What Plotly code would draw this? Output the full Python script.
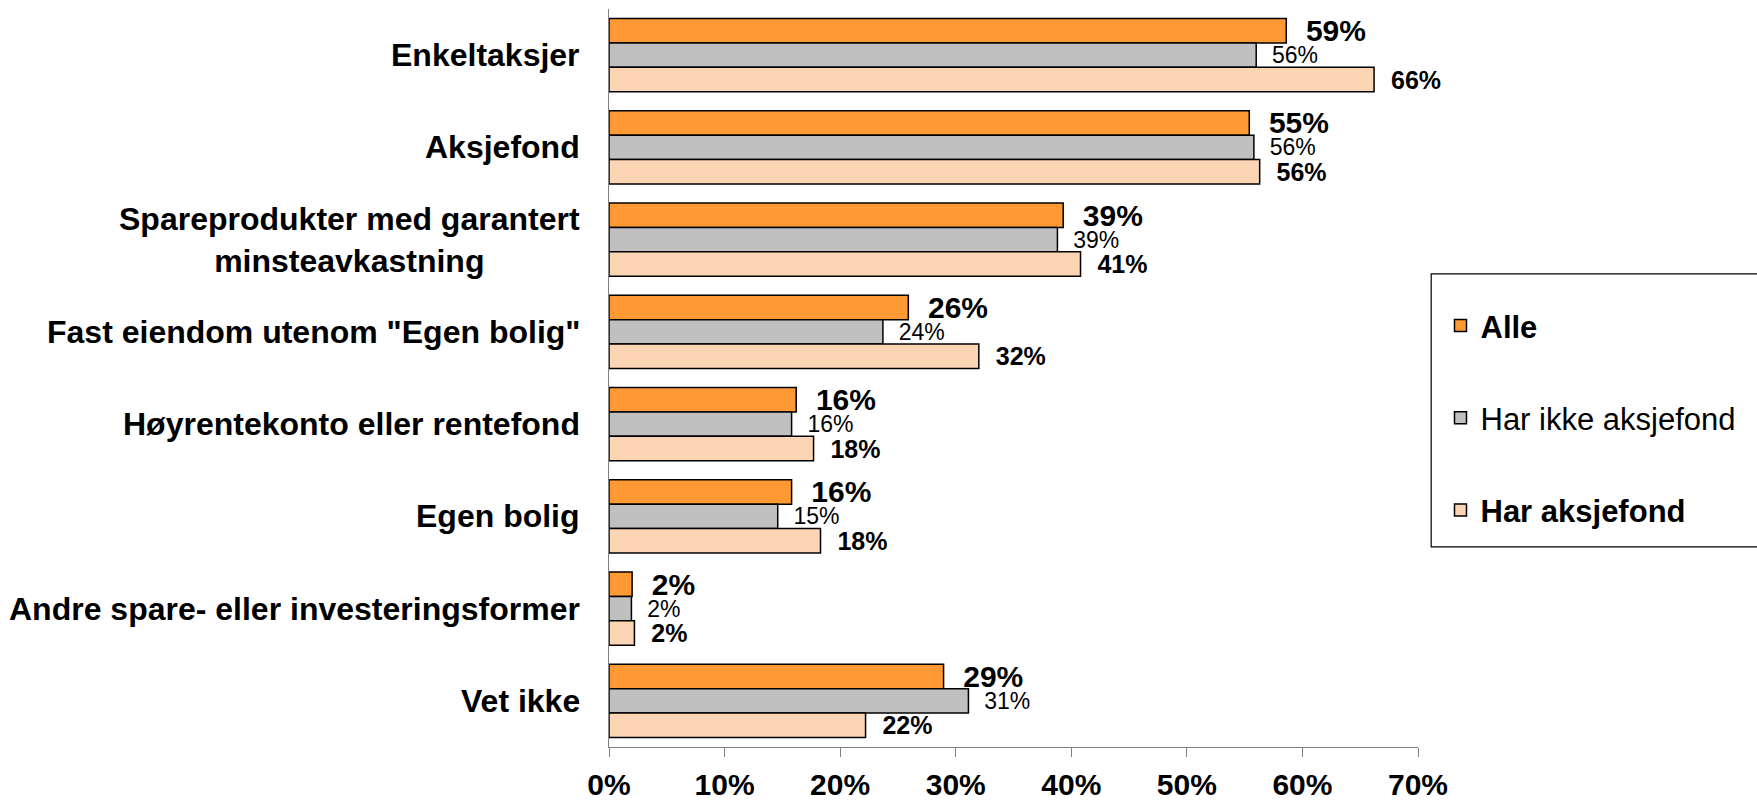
import plotly.graph_objects as go

categories = [
    "Enkeltaksjer",
    "Aksjefond",
    "Spareprodukter med garantert<br>minsteavkastning",
    "Fast eiendom utenom \"Egen bolig\"",
    "Høyrentekonto eller rentefond",
    "Egen bolig",
    "Andre spare- eller investeringsformer",
    "Vet ikke",
]
alle = [58.6, 55.4, 39.3, 25.9, 16.2, 15.8, 2.0, 28.95]
har_ikke = [56.0, 55.8, 38.8, 23.7, 15.8, 14.6, 1.94, 31.1]
har = [66.2, 56.3, 40.8, 32.0, 17.7, 18.3, 2.2, 22.2]

series_names = ["<b>Alle</b>", "Har ikke aksjefond", "<b>Har aksjefond</b>"]
series_values = [alle, har_ikke, har]
colors = ["#FF9933", "#C0C0C0", "#FCD5B4"]
label_fonts = [
    dict(size=30, weight="bold"),
    dict(size=23, weight="normal"),
    dict(size=25, weight="bold"),
]
xticks = [0, 10, 20, 30, 40, 50, 60, 70]
xticktext = [f"{v}%" for v in xticks]

FONT = "Liberation Sans, Arial, sans-serif"
NB = "\u00a0\u00a0"

# the page body margin is removed below, so page pixels == figure pixels
W, H = 1757, 800
L = 609.3
R = W - 1418.5
T = 9
B = H - 747.5
pw = W - L - R
ph = H - T - B


def px_x(px):
    return (px - L) / pw


def px_y(py):
    return (H - B - py) / ph


fig = go.Figure()
for i, (name, vals, col, lf) in enumerate(zip(series_names, series_values, colors, label_fonts)):
    fig.add_trace(go.Bar(
        y=categories, x=vals, orientation="h", name=name,
        marker=dict(color=col, line=dict(color="#000000", width=1.5)),
        texttemplate=NB + "%{x:.0f}%", textposition="outside",
        textfont=dict(family=FONT, color="#000000", **lf),
        constraintext="none", cliponaxis=False,
        legendgroup=f"g{i}",
    ))

for c in categories:
    fig.add_annotation(
        x=0, xref="paper", y=c, yref="y", xshift=-27,
        xanchor="right", yanchor="middle", align="center",
        text=f"<b>{c}</b>", showarrow=False,
        font=dict(family=FONT, size=32, color="#000000"),
    )

fig.add_shape(type="rect", xref="paper", yref="paper",
              x0=px_x(1431.7), x1=px_x(1775), y0=px_y(547.3), y1=px_y(274),
              line=dict(color="#000000", width=1.2), fillcolor="rgba(0,0,0,0)")

fig.update_layout(
    width=W, height=H,
    margin=dict(l=L, r=R, t=T, b=B, pad=0, autoexpand=False),
    paper_bgcolor="white", plot_bgcolor="white",
    font=dict(family=FONT, color="#000000"),
    barmode="group", bargap=0.204, bargroupgap=0,
    showlegend=True,
    legend=dict(
        x=px_x(1441), y=px_y(299), xanchor="left", yanchor="top",
        font=dict(family=FONT, size=31, color="#000000"),
        bgcolor="rgba(0,0,0,0)", borderwidth=0,
        tracegroupgap=49, traceorder="grouped",
    ),
    xaxis=dict(
        range=[0, 70], tickvals=xticks, ticktext=xticktext,
        tickfont=dict(family=FONT, size=30, weight="bold", color="#000000"),
        ticks="outside", ticklen=9, tickcolor="#808080", tickwidth=1,
        ticklabelstandoff=2, automargin=False,
        showline=True, linecolor="#808080", linewidth=1,
        showgrid=False, zeroline=False, fixedrange=True,
    ),
    yaxis=dict(
        autorange="reversed", showticklabels=False, ticks="",
        automargin=False,
        showline=True, linecolor="#808080", linewidth=1,
        showgrid=False, zeroline=False,
    ),
)

fig.write_html(
    "out.html",
    config={"displayModeBar": False},
    post_script="document.body.style.margin='0';document.body.style.overflow='hidden';",
)
